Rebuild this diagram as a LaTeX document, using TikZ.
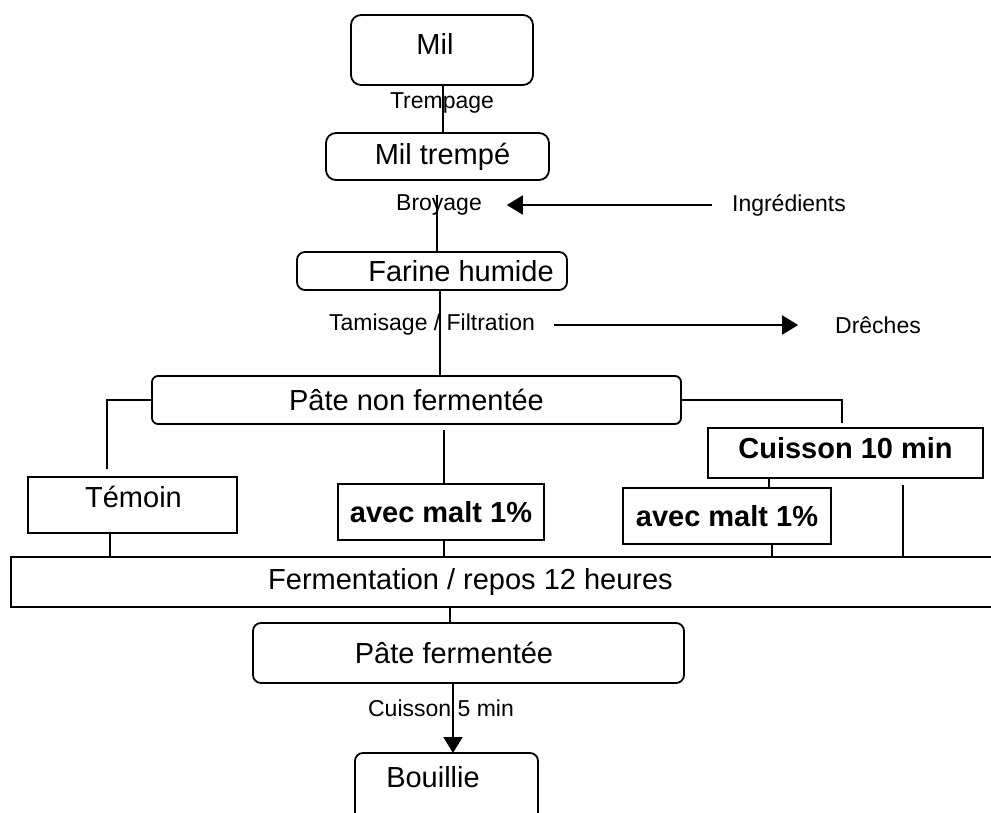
\documentclass[tikz,border=0pt]{standalone}
\usepackage{fontspec}
\setmainfont{Liberation Sans}
\usetikzlibrary{arrows.meta,calc}
\begin{document}
\begin{tikzpicture}[x=1pt,y=-1pt,
  every node/.style={inner sep=0pt, outer sep=0pt},
  rbox/.style={draw, line width=1.8pt, rounded corners=#1},
  rbox/.default=9pt,
  sbox/.style={draw, line width=1.8pt},
  big/.style={font=\fontsize{29}{32}\selectfont},
  bigb/.style={font=\fontsize{29}{32}\selectfont\bfseries},
  lab/.style={font=\fontsize{23}{26}\selectfont},
  conn/.style={line width=1.8pt},
  arr/.style={line width=1.8pt, -{Triangle[length=16pt,width=19pt]}},
]
\clip (0,0) rectangle (991,813);
% boxes
\node[rbox=10pt, minimum width=182, minimum height=70,
  label={[big, name=miltxt, xshift=-7pt, yshift=6pt]center:Mil}] (mil) at (442,50) {};
\node[rbox=10pt, big, minimum width=223, minimum height=47] (miltr) at (437.5,156.5) {\hspace*{10pt}Mil trempé};
\node[rbox=8pt, big, minimum width=270, minimum height=38] (farine) at (432,271) {\hspace*{58pt}Farine humide};
\node[rbox=6pt, big, minimum width=529, minimum height=48] (pnf) at (416.5,400) {Pâte non fermentée};
\node[sbox, minimum width=209, minimum height=56,
  label={[big, name=temointxt, xshift=1pt, yshift=8pt]center:Témoin}] (temoin) at (132.5,505) {};
\node[sbox, bigb, minimum width=206, minimum height=56] (malt1) at (441,512) {avec malt 1\%};
\node[sbox, minimum width=275, minimum height=50,
  label={[bigb, name=cuissontxt, yshift=5pt]center:Cuisson 10 min}] (cuisson) at (845.5,453) {};
\node[sbox, bigb, minimum width=208, minimum height=56] (malt2) at (727,516) {avec malt 1\%};
\node[sbox, big, minimum width=989, minimum height=50] (ferm) at (505.5,582) {Fermentation / repos 12 heures\hspace*{70pt}};
\node[rbox=8pt, big, minimum width=431, minimum height=60] (pf) at (468.5,653) {Pâte fermentée\hspace*{29pt}};
\node[rbox=8pt, minimum width=183, minimum height=87, anchor=north] (bouil) at (446.5,753) {};
\node[big] (bouiltxt) at (433,777) {Bouillie};
% labels
\node[lab] (trempage) at (442,103) {Trempage};
\node[lab] (broyage) at (439,205) {Broyage};
\node[lab] (ingr) at (789,205) {Ingrédients};
\node[lab] (tamis) at (432,325) {Tamisage / Filtration};
\node[lab] (dreches) at (878,325) {Drêches};
\node[lab] (cuis5) at (441,708) {Cuisson 5 min};
% coordinates
\coordinate (xa) at (443,0);
\coordinate (xb) at (437,0);
\coordinate (xc) at (440,0);
\coordinate (xm) at (444,0);
\coordinate (tl) at (107,469);
\coordinate (tr) at (842,423);
\coordinate (xt) at (110,0);
\coordinate (xk) at (769,0);
\coordinate (xn) at (772,0);
\coordinate (xr) at (903,0);
\coordinate (xf) at (450,0);
\coordinate (xp) at (453,0);
% connectors
\draw[conn] (mil.south -| xa) -- (miltr.north -| xa);
\draw[conn] (broyage.north -| xb) -- (farine.north -| xb);
\draw[conn] (farine.south -| xc) -- (pnf.north -| xc);
\draw[arr] ([xshift=-20pt]ingr.west) -- ([xshift=25pt]broyage.east);
\draw[arr] ([xshift=19pt]tamis.east) -- ([xshift=-37pt]dreches.west);
\draw[conn] (pnf.west) -| (tl);
\draw[conn, shorten <=6pt] (pnf.south -| xm) -- (malt1.north -| xm);
\draw[conn] (pnf.east) -| (tr);
\draw[conn] (temoin.south -| xt) -- (ferm.north -| xt);
\draw[conn] (malt1.south -| xm) -- (ferm.north -| xm);
\draw[conn] (cuisson.south -| xk) -- (malt2.north -| xk);
\draw[conn] (malt2.south -| xn) -- (ferm.north -| xn);
\draw[conn, shorten <=7pt] (cuisson.south -| xr) -- (ferm.north -| xr);
\draw[conn] (ferm.south -| xf) -- (pf.north -| xf);
\draw[arr] (pf.south -| xp) -- (bouil.north -| xp);
\end{tikzpicture}
\end{document}
